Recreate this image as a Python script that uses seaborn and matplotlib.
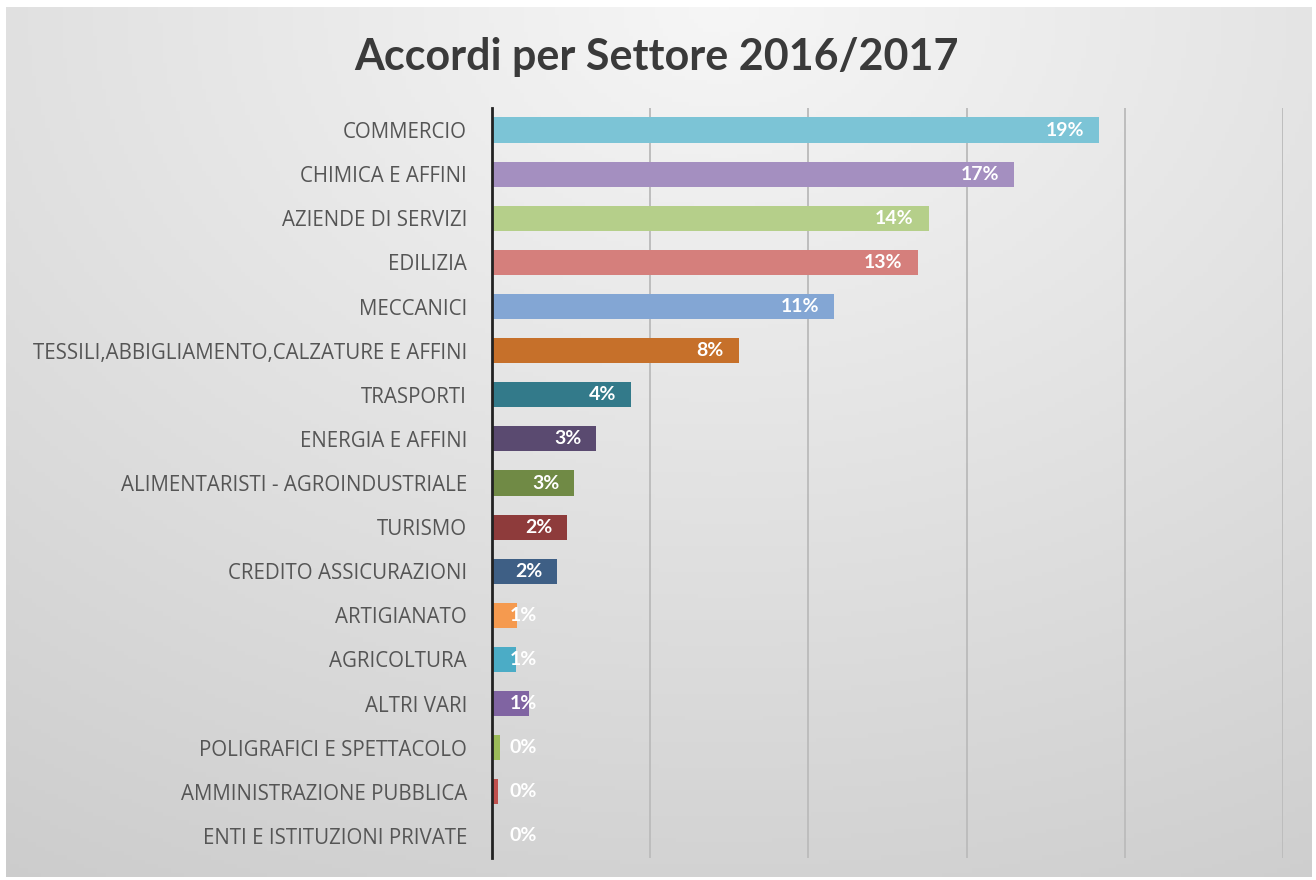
import numpy as np
import pandas as pd
import matplotlib
matplotlib.use("Agg")
import matplotlib.pyplot as plt
import seaborn as sns

categories = [
    "COMMERCIO", "CHIMICA E AFFINI", "AZIENDE DI SERVIZI", "EDILIZIA", "MECCANICI",
    "TESSILI,ABBIGLIAMENTO,CALZATURE E AFFINI", "TRASPORTI", "ENERGIA E AFFINI",
    "ALIMENTARISTI - AGROINDUSTRIALE", "TURISMO", "CREDITO ASSICURAZIONI",
    "ARTIGIANATO", "AGRICOLTURA", "ALTRI VARI", "POLIGRAFICI E SPETTACOLO",
    "AMMINISTRAZIONE PUBBLICA", "ENTI E ISTITUZIONI PRIVATE",
]
values = [0.192, 0.165, 0.138, 0.1345, 0.108, 0.078, 0.044, 0.033, 0.026, 0.0237,
          0.0206, 0.0079, 0.0076, 0.0117, 0.0025, 0.0019, 0.0]
labels = ["19%", "17%", "14%", "13%", "11%", "8%", "4%", "3%", "3%", "2%", "2%",
          "1%", "1%", "1%", "0%", "0%", "0%"]
colors = ["#7CC4D6", "#A48FC0", "#B5CF8A", "#D57F7C", "#83A6D4", "#C6702A", "#337A8A",
          "#5A4A70", "#708A45", "#8E3B3B", "#3E5F85", "#F59A4F", "#4BACC6", "#8064A2",
          "#9BBB59", "#C0504D", "#7F7F7F"]
title = "Accordi per Settore 2016/2017"

df = pd.DataFrame({"settore": categories, "quota": values})

sns.set_theme(style="white")
plt.rcParams["font.family"] = ["Lato", "DejaVu Sans"]

fig = plt.figure(figsize=(13.16, 8.8), dpi=100)
fig.patch.set_facecolor("white")

# background gradient panel
bg = fig.add_axes([6 / 1316, 3 / 880, 1306 / 1316, 870 / 880])
bg.set_axis_off()
yy, xx = np.mgrid[0:1:200j, 0:1:300j]
d = np.sqrt(((xx - 0.55) * 1.0) ** 2 + ((yy - 0.0) * 0.9) ** 2)
shade = 0.965 - 0.17 * np.clip(d / 1.1, 0, 1)
bg.imshow(np.dstack([shade, shade, shade]), aspect="auto", extent=[0, 1, 1, 0])
bg.set_xlim(0, 1)
bg.set_ylim(1, 0)

ax = fig.add_axes([492 / 1316, 22 / 880, 791 / 1316, 750 / 880])
ax.patch.set_alpha(0)
sns.barplot(data=df, y="settore", x="quota", hue="settore", palette=colors,
            orient="h", width=0.57, legend=False, ax=ax, saturation=1, linewidth=0)
ax.set_xlim(0, 0.25)
ax.set_ylim(len(categories) - 0.5, -0.5)
ax.set_xticks([0.05, 0.10, 0.15, 0.20, 0.25])
ax.set_xticklabels([])
ax.tick_params(axis="x", length=0)
ax.tick_params(axis="y", length=0, pad=18, labelcolor="#555555")
for t in ax.get_yticklabels():
    t.set_fontfamily(["Open Sans", "DejaVu Sans"])
    t.set_fontsize(14.8)
ax.grid(axis="x", color="#BDBDBD", linewidth=1.4)
ax.set_axisbelow(True)
ax.set_xlabel("")
ax.set_ylabel("")
for s in ["top", "right", "bottom"]:
    ax.spines[s].set_visible(False)
ax.spines["left"].set_color("#222222")
ax.spines["left"].set_linewidth(2)

for i, (v, lab) in enumerate(zip(values, labels)):
    xr = max(v - 0.0047, 0.0142)
    ax.text(xr, i, lab, ha="right", va="center", color="white",
            fontsize=14, fontweight="bold")

fig.text(0.4985, 1 - 57 / 880, title, ha="center", va="center",
         fontsize=31, fontweight="bold", color="#3A3A3A")

fig.savefig("out.png", dpi=100)
